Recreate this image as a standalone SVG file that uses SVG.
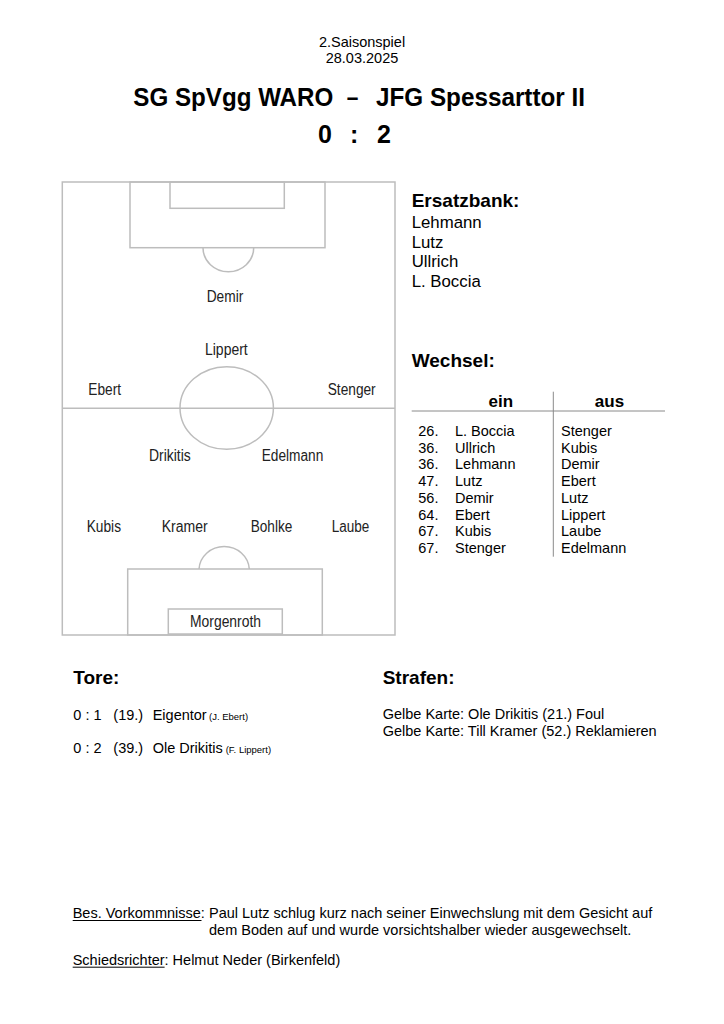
<svg xmlns="http://www.w3.org/2000/svg" width="724" height="1024" viewBox="0 0 724 1024">
<style>
text{font-family:"Liberation Sans",Arial,sans-serif;fill:#000}
.h{font-size:14.5px}
.t{font-size:25.5px;font-weight:bold}
.s{font-size:25px;font-weight:bold}
.b{font-size:19px;font-weight:bold}
.bench{font-size:16.8px}
.tb{font-size:14.5px}
.th{font-size:17px;font-weight:bold}
.p{font-size:16px;fill:#222}
.sm{font-size:9.5px}
.ln{fill:none;stroke:#bdbdbd;stroke-width:1.5}
.rule{stroke:#8a8a8a;stroke-width:1;fill:none}
.ul{stroke:#000;stroke-width:1}
</style>
<rect width="724" height="1024" fill="#fff"/>
<g id="header">
<text class="h" x="362" y="46.7" text-anchor="middle">2.Saisonspiel</text>
<text class="h" x="362" y="63.3" text-anchor="middle">28.03.2025</text>
<text class="t" x="133.3" y="106" textLength="200" lengthAdjust="spacingAndGlyphs">SG SpVgg WARO</text>
<text class="t" x="346.7" y="106" textLength="11.6" lengthAdjust="spacingAndGlyphs">–</text>
<text class="t" x="376" y="106" textLength="209" lengthAdjust="spacingAndGlyphs">JFG Spessarttor II</text>
<text class="s" x="318" y="143.3">0</text>
<text class="s" x="350" y="143.3">:</text>
<text class="s" x="377" y="143.3">2</text>
</g>
<g id="field">
<rect class="ln" x="62.3" y="182" width="332.7" height="453"/>
<line class="ln" x1="62.3" y1="408.3" x2="395" y2="408.3"/>
<rect class="ln" x="130" y="182" width="195" height="65.7"/>
<rect class="ln" x="170" y="182" width="114.3" height="26.3"/>
<path class="ln" d="M203,247.7 A25.3,24 0 0 0 253.7,247.7"/>
<ellipse class="ln" cx="226.7" cy="408" rx="46.7" ry="41.3"/>
<rect class="ln" x="127.7" y="569" width="194.6" height="66"/>
<path class="ln" d="M199,569 A25.2,24 0 0 1 249.3,569"/>
<rect class="ln" x="168.3" y="609" width="114" height="25"/>
</g>
<g id="players">
<text class="p" x="206.7" y="301.7" textLength="36.6" lengthAdjust="spacingAndGlyphs">Demir</text>
<text class="p" x="205" y="355" textLength="42.7" lengthAdjust="spacingAndGlyphs">Lippert</text>
<text class="p" x="88.3" y="395" textLength="32.7" lengthAdjust="spacingAndGlyphs">Ebert</text>
<text class="p" x="327.7" y="395" textLength="48" lengthAdjust="spacingAndGlyphs">Stenger</text>
<text class="p" x="149" y="460.7" textLength="41.7" lengthAdjust="spacingAndGlyphs">Drikitis</text>
<text class="p" x="261.7" y="460.7" textLength="61.6" lengthAdjust="spacingAndGlyphs">Edelmann</text>
<text class="p" x="86.7" y="531.7" textLength="34.3" lengthAdjust="spacingAndGlyphs">Kubis</text>
<text class="p" x="161.7" y="531.7" textLength="46" lengthAdjust="spacingAndGlyphs">Kramer</text>
<text class="p" x="250.7" y="531.7" textLength="41.6" lengthAdjust="spacingAndGlyphs">Bohlke</text>
<text class="p" x="331.7" y="531.7" textLength="37.6" lengthAdjust="spacingAndGlyphs">Laube</text>
<text class="p" x="190" y="626.7" textLength="71" lengthAdjust="spacingAndGlyphs">Morgenroth</text>
</g>
<g id="bench">
<text class="b" x="411.7" y="207.3">Ersatzbank:</text>
<text class="bench" x="411.7" y="228.3">Lehmann</text>
<text class="bench" x="411.7" y="247.7">Lutz</text>
<text class="bench" x="411.7" y="267.3">Ullrich</text>
<text class="bench" x="411.7" y="286.7">L. Boccia</text>
</g>
<g id="subs">
<text class="b" x="411.7" y="367.3">Wechsel:</text>
<text class="th" x="500.8" y="406.7" text-anchor="middle">ein</text>
<text class="th" x="609.5" y="406.7" text-anchor="middle">aus</text>
<text class="tb" x="418.3" y="436">26.</text><text class="tb" x="455" y="436">L. Boccia</text><text class="tb" x="561" y="436">Stenger</text>
<text class="tb" x="418.3" y="452.7">36.</text><text class="tb" x="455" y="452.7">Ullrich</text><text class="tb" x="561" y="452.7">Kubis</text>
<text class="tb" x="418.3" y="469.4">36.</text><text class="tb" x="455" y="469.4">Lehmann</text><text class="tb" x="561" y="469.4">Demir</text>
<text class="tb" x="418.3" y="486.1">47.</text><text class="tb" x="455" y="486.1">Lutz</text><text class="tb" x="561" y="486.1">Ebert</text>
<text class="tb" x="418.3" y="502.8">56.</text><text class="tb" x="455" y="502.8">Demir</text><text class="tb" x="561" y="502.8">Lutz</text>
<text class="tb" x="418.3" y="519.5">64.</text><text class="tb" x="455" y="519.5">Ebert</text><text class="tb" x="561" y="519.5">Lippert</text>
<text class="tb" x="418.3" y="536.2">67.</text><text class="tb" x="455" y="536.2">Kubis</text><text class="tb" x="561" y="536.2">Laube</text>
<text class="tb" x="418.3" y="552.9">67.</text><text class="tb" x="455" y="552.9">Stenger</text><text class="tb" x="561" y="552.9">Edelmann</text>
</g>
<g id="connectors">
<line class="rule" x1="411.7" y1="411" x2="665" y2="411"/>
<line class="rule" x1="553.3" y1="391.7" x2="553.3" y2="556.7"/>
<line class="ul" x1="72.7" y1="920.5" x2="201.5" y2="920.5"/>
<line class="ul" x1="72.7" y1="967.2" x2="164.6" y2="967.2"/>
</g>
<g id="goals">
<text class="b" x="73.3" y="684.3">Tore:</text>
<text class="tb" x="73.3" y="720">0 : 1</text>
<text class="tb" x="113.3" y="720">(19.)</text>
<text class="tb" x="152.7" y="720">Eigentor</text>
<text class="sm" x="209" y="720">(J. Ebert)</text>
<text class="tb" x="73.3" y="753.3">0 : 2</text>
<text class="tb" x="113.3" y="753.3">(39.)</text>
<text class="tb" x="152.7" y="753.3">Ole Drikitis</text>
<text class="sm" x="225.7" y="753.3">(F. Lippert)</text>
</g>
<g id="penalties">
<text class="b" x="382.7" y="684.3">Strafen:</text>
<text class="tb" x="382.7" y="719.3">Gelbe Karte: Ole Drikitis (21.) Foul</text>
<text class="tb" x="382.7" y="736">Gelbe Karte: Till Kramer (52.) Reklamieren</text>
</g>
<g id="notes">
<text class="tb" x="72.7" y="918.3">Bes. Vorkommnisse:</text>
<text class="tb" x="209" y="918.3">Paul Lutz schlug kurz nach seiner Einwechslung mit dem Gesicht auf</text>
<text class="tb" x="209" y="935">dem Boden auf und wurde vorsichtshalber wieder ausgewechselt.</text>
<text class="tb" x="72.7" y="965">Schiedsrichter: Helmut Neder (Birkenfeld)</text>
</g>
</svg>
